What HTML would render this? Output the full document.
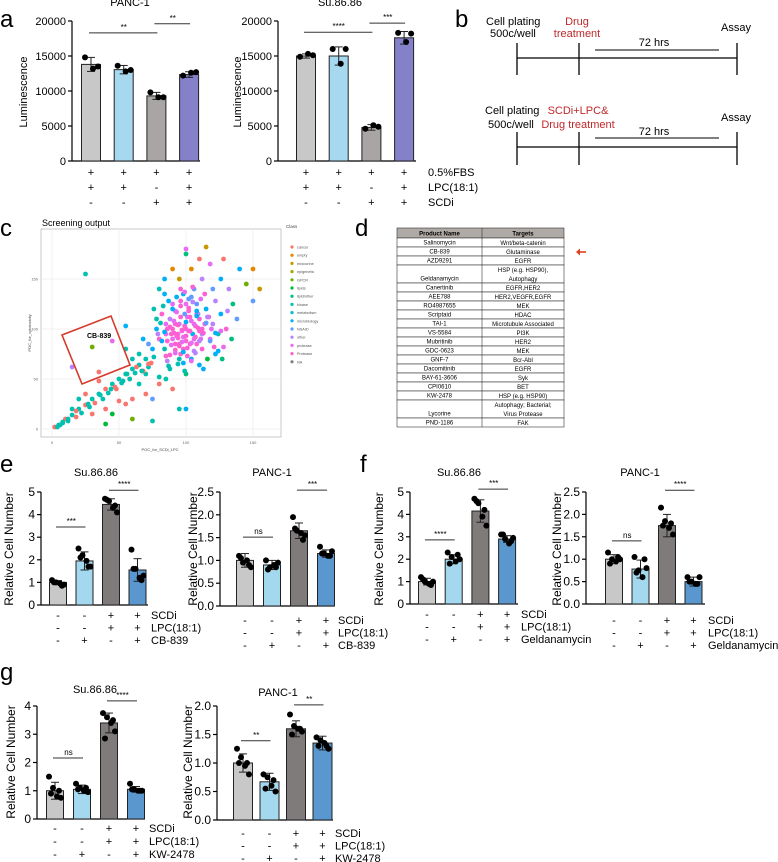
<!DOCTYPE html>
<html><head><meta charset="utf-8"><style>
html,body{margin:0;padding:0;background:#fff}
svg{display:block;font-family:"Liberation Sans",Arial,sans-serif}
</style></head><body>
<svg id="fig" width="778" height="862" viewBox="0 0 778 862" xmlns="http://www.w3.org/2000/svg"></svg>
<script>
// ---------- DATA ----------
const aPancVals = [13800,13050,9300,12350];
const aPancErrs = [1000,600,500,400];
const aPancReps = [[14800,13200,13500],[13600,12800,13000],[9800,9100,9100],[12200,12600,12700]];
const aSuVals = [15000,15000,4800,17600];
const aSuErrs = [300,1300,400,900];
const aSuReps = [[14900,15300,15100],[16000,13900,16000],[4600,5100,4900],[18300,17000,18200]];
const aTicks = [0,5000,10000,15000,20000];
const aTickLabels = ["0","5000","10000","15000","20000"];

const eSuVals = [1.0,1.95,4.45,1.55];
const eSuErrs = [0.08,0.4,0.25,0.5];
const eSuReps = [[1.1,1.0,0.95,0.9,1.0,0.85],[2.5,2.2,1.95,1.7,2.1,1.7],[4.7,4.6,4.3,4.1,4.65,4.4],[2.45,1.6,1.2,1.3,1.6,1.1]];
const ePaVals = [1.0,0.9,1.65,1.15];
const ePaErrs = [0.15,0.1,0.17,0.08];
const ePaReps = [[1.1,0.95,1.0,0.85,1.05,0.9],[1.0,0.85,0.9,0.95,0.8,0.85],[1.95,1.65,1.6,1.55,1.7,1.45],[1.3,1.15,1.1,1.2,1.15,1.1]];
const fSuVals = [1.0,2.0,4.15,2.9];
const fSuErrs = [0.15,0.2,0.5,0.15];
const fSuReps = [[1.2,1.0,0.9,1.0,1.1,0.85],[2.3,2.1,1.9,2.0,1.8,2.2],[4.7,4.5,3.9,3.5,4.6,4.2],[3.1,2.9,2.7,2.95,3.1,2.8]];
const fPaVals = [1.0,0.78,1.75,0.5];
const fPaErrs = [0.1,0.2,0.25,0.1];
const fPaReps = [[1.15,1.0,0.95,1.0,0.9,1.05],[1.05,0.75,0.6,0.8,0.7,1.0],[2.15,1.85,1.7,1.55,1.75,1.8],[0.6,0.5,0.45,0.6,0.5,0.45]];
const gSuVals = [1.0,1.05,3.4,1.05];
const gSuErrs = [0.3,0.15,0.35,0.1];
const gSuReps = [[1.5,1.1,0.8,0.75,0.9,1.0],[1.25,1.1,1.0,0.95,1.05,1.1],[3.75,3.6,3.4,3.1,2.85,3.5],[1.25,1.05,1.0,1.0,1.05,1.0]];
const gPaVals = [1.0,0.67,1.6,1.35];
const gPaErrs = [0.16,0.15,0.14,0.12];
const gPaReps = [[1.25,1.1,0.95,0.8,1.0,1.0],[0.8,0.75,0.6,0.5,0.55,0.7],[1.85,1.65,1.6,1.55,1.5,1.6],[1.45,1.4,1.35,1.25,1.3,1.3]];
const ticks5 = [0,1,2,3,4,5];
const ticks5Labels = ["0","1","2","3","4","5"];
const ticks25 = [0,0.5,1,1.5,2,2.5];
const ticks25Labels = ["0.0","0.5","1.0","1.5","2.0","2.5"];
const ticks4 = [0,1,2,3,4];
const ticks4Labels = ["0","1","2","3","4"];
const ticks2 = [0,0.5,1,1.5,2];
const ticks2Labels = ["0.0","0.5","1.0","1.5","2.0"];

const scX = [2,5,8,10,12,15,18,20,22,25,28,30,32,35,38,40,42,45,48,50,52,55,58,60,62,65,30,40,50,60,70,45,55,75,35,25,20,15,65,70,72,68,80,85,90,60,75,95,100,40,
30,45,55,15,35,25,55,
80,85,90,95,100,105,110,92,98,88,102,96,84,76,108,115,120,118,112,104,94,86,78,82,90,98,106,114,122,126,124,116,100,88,72,70,76,84,95,104,112,118,126,132,135,130,128,122,108,100,94,90,96,104,110,86,92,100,108,114,82,98,106,88,120,96,102,92,97,103,140,150,155,145,138,134,150,110,100,90,84,80,100,115,128,95,99,93,107,101,89,111,117,85,79,75,65,68,72,60,
91,94,97,100,103,106,109,112,88,91,94,97,100,103,106,109,112,115,86,89,92,95,98,101,104,107,110,113,90,93,96,99,102,105,108,111,95,98,101,104,107,93,96,99,102,105,108,83,87,116,119,122,81,84,118,121,124,127,78,131,126,113,99,87,74,80,67,63,58,56,53,47,44,36,27,18,12,8,6,4,85,92,110,104];
const scY = [2,4,6,10,8,14,12,20,16,24,22,30,26,35,30,40,36,45,40,50,46,55,50,60,56,64,15,20,28,30,35,15,25,30,48,35,30,20,45,55,62,58,45,50,40,10,8,20,20,5,
82,88,80,62,57,155,103,
90,95,100,105,100,95,110,85,92,110,118,75,80,72,125,120,105,90,80,70,65,68,100,115,125,135,140,135,128,115,95,70,55,60,85,70,120,135,150,160,150,165,150,140,125,100,82,75,85,88,95,90,112,108,98,100,118,125,115,105,88,80,78,74,140,140,98,105,98,85,160,128,140,145,110,90,160,170,175,160,150,140,180,182,170,85,103,93,103,112,95,90,112,105,95,80,75,90,65,70,
96,91,87,93,98,90,101,95,102,108,104,99,107,112,105,115,100,106,88,84,79,83,77,81,86,92,88,96,120,117,123,115,121,127,113,130,70,66,73,68,76,132,128,137,130,142,118,123,128,112,100,96,106,97,88,82,78,70,110,118,98,60,58,63,66,52,58,62,50,55,48,42,40,34,25,18,10,7,4,2,73,76,64,132];
const scC = [0,7,7,0,7,7,0,7,7,0,7,7,0,7,7,0,7,7,0,7,7,7,0,7,7,7,0,0,0,0,0,5,0,10,0,0,7,7,7,7,7,0,0,7,0,4,7,7,9,5,
4,12,7,11,0,7,9,
13,12,13,11,13,9,13,13,12,11,13,13,7,7,10,9,11,12,13,9,7,11,9,13,12,9,10,13,11,9,7,5,6,7,10,7,7,9,2,1,11,12,9,11,6,13,12,9,13,13,13,12,13,12,13,13,11,12,13,12,9,13,11,13,10,13,13,13,12,13,9,10,2,4,10,6,1,0,6,1,9,7,12,2,0,13,13,13,13,12,13,12,13,12,11,9,7,9,0,7,
13,13,12,13,13,12,13,11,13,12,13,13,9,13,12,11,13,10,13,12,13,13,9,13,12,13,11,13,9,12,13,10,13,11,9,12,7,9,13,12,11,9,13,12,10,13,9,7,9,11,12,9,7,9,10,13,9,6,7,11,12,9,7,7,0,7,7,0,7,7,7,0,7,7,7,0,7,7,7,7,13,12,9,10];
const classLabels = ["cancer","empty","endocrine","epigenetic","GPCR","lipids","lipid/other","kinase","metabolism","microbiology","NSAID","other","protease","Protease","NA"];
const classColors = ["#F8766D","#E58700","#C99800","#A3A500","#6BB100","#00BA38","#00BF7D","#00C0AF","#00BCD8","#00B0F6","#619CFF","#B983FF","#E76BF3","#FD61D1","#7f7f7f"];
const scTicks = [0,50,100,150];

const tableNames = ["Salinomycin","CB-839","AZD9291","Geldanamycin","Canertinib","AEE788","RO4987655","Scriptaid","TAI-1","VS-5584","Mubritinib","GDC-0623","GNF-7","Dacomitinib","BAY-61-3606","CPI0610","KW-2478","Lycorine","PND-1186"];
const tableTargets = [["Wnt/beta-catenin"],["Glutaminase"],["EGFR"],["HSP (e.g. HSP90),","Autophagy"],["EGFR,HER2"],["HER2,VEGFR,EGFR"],["MEK"],["HDAC"],["Microtubule Associated"],["PI3K"],["HER2"],["MEK"],["Bcr-Abl"],["EGFR"],["Syk"],["BET"],["HSP (e.g. HSP90)"],["Autophagy; Bacterial;","Virus Protease"],["FAK"]];

// ---------- HELPERS ----------
const NS="http://www.w3.org/2000/svg";
const svg=document.getElementById('fig');
function el(tag,attrs,parent){const e=document.createElementNS(NS,tag);for(const k in attrs)e.setAttribute(k,attrs[k]);(parent||svg).appendChild(e);return e;}
function txt(s,x,y,size,anchor,parent,extra){const t=el('text',Object.assign({x:x,y:y,'font-size':size,'text-anchor':anchor||'start',fill:'#000'},extra||{}),parent);t.textContent=s;return t;}

function barChart(o){
  const g=el('g',{});
  
  
  const ys=v=>o.y0-(v/o.max)*(o.y0-o.yTop);
  const cx=i=>o.c0+i*o.step;
  el('line',{x1:o.ax,y1:o.y0,x2:o.ax,y2:o.yTop,stroke:'#000','stroke-width':1.2},g);
  el('line',{x1:o.ax,y1:o.y0,x2:o.axEnd,y2:o.y0,stroke:'#000','stroke-width':1.2},g);
  o.ticks.forEach((t,i)=>{
    const y=ys(t);
    el('line',{x1:o.ax-4,y1:y,x2:o.ax,y2:y,stroke:'#000','stroke-width':1.2},g);
    const tl=txt(o.tickLabels[i],o.ax-6,y+4,o.tickSize||11,'end',g);
    
    
  });
  const yt=txt(o.yTitle,0,0,o.yTitleSize||11,'middle',g,{transform:`translate(${o.ytx},${o.yty}) rotate(-90)`});
  
  
  if(o.title){const tt=txt(o.title,o.titleX,o.titleY,11,'middle',g);
    
    }
  o.vals.forEach((v,i)=>{
    const x=cx(i);
    const r=el('rect',{x:x-o.bw/2,y:ys(v),width:o.bw,height:o.y0-ys(v),fill:o.colors[i],stroke:'#222','stroke-width':1},g);
    
    
    const e=o.errs[i];
    el('line',{x1:x,y1:ys(v-e),x2:x,y2:ys(v+e),stroke:'#222','stroke-width':1},g);
    el('line',{x1:x-4,y1:ys(v+e),x2:x+4,y2:ys(v+e),stroke:'#222','stroke-width':1},g);
    el('line',{x1:x-4,y1:ys(v-e),x2:x+4,y2:ys(v-e),stroke:'#222','stroke-width':1},g);
    const reps=o.reps[i];
    const offs=reps.length===3?[-6,2,7]:[-6,-2,2,6,-4,4];
    reps.forEach((rv,j)=>{
      const d=el('circle',{cx:x+offs[j],cy:ys(rv),r:3,fill:'#000'},g);
      
      
    });
  });
  o.sigs.forEach(s=>{
    const y=ys(s[2]);
    el('line',{x1:cx(s[0])-2,y1:y,x2:cx(s[1])+1,y2:y,stroke:'#333','stroke-width':1},g);
    const st=txt(s[3],(cx(s[0])+cx(s[1]))/2,y-3,8,'middle',g);
    
    
  });
  if(o.signs){
    o.signs.forEach((row,ri)=>{
      const y=o.rowY0+ri*o.rowStep;
      row.forEach((s,i)=>txt(s,cx(i),y,11,'middle',g));
      if(o.rowLabels){const rl=txt(o.rowLabels[ri],o.rowLabelX,y,11,'start',g);
        
        }
    });
  }
}
function letter(s,x,y){const t=txt(s,x,y,24,'start');
  
  }

// ---------- PANEL A ----------
letter('a',0,27);
const colA=["#c8c8c8","#a6d8ef","#a9a5a5","#8481c9"];
const signsA=[["+","+","+","+"],["+","+","-","+"],["-","-","+","+"]];
barChart({name:'panc1-luminescence-chart',ax:72,axEnd:200,y0:161,yTop:21,max:20000,ticks:aTicks,tickLabels:aTickLabels,c0:91,step:32.7,bw:19,
  vals:aPancVals,errs:aPancErrs,reps:aPancReps,colors:colA,sigs:[[0,2,18300,'**'],[2,3,19600,'**']],
  yTitle:'Luminescence',ytx:27,yty:92,title:'PANC-1',titleX:130,titleY:6,signs:signsA,rowY0:176,rowStep:15});
barChart({name:'su8686-luminescence-chart',ax:278,axEnd:416,y0:161,yTop:21,max:20000,ticks:aTicks,tickLabels:aTickLabels,c0:306,step:32.7,bw:19,
  vals:aSuVals,errs:aSuErrs,reps:aSuReps,colors:colA,sigs:[[0,2,18400,'****'],[2,3,19700,'***']],
  yTitle:'Luminescence',ytx:241,yty:92,title:'Su.86.86',titleX:340,titleY:6,signs:signsA,rowY0:176,rowStep:15,
  rowLabels:['0.5%FBS','LPC(18:1)','SCDi'],rowLabelX:428});

// ---------- PANEL B ----------
letter('b',455,27);
(function(){
  const g=el('g',{});
  
  
  const L=(a,b,c,d,w)=>el('line',{x1:a,y1:b,x2:c,y2:d,stroke:'#000','stroke-width':w||1.3},g);
  const red={fill:'#c0282a'};
  // top
  L(517,58,737,58);L(517,43,517,75);L(579,43,579,75);L(737,43,737,75);
  L(595,50,719,50,1);
  txt('Cell plating',486,25,11,'start',g);txt('500c/well',490,37,11,'start',g);
  txt('Drug',577,25,11,'middle',g,red);txt('treatment',577,37,11,'middle',g,red);
  txt('72 hrs',654,46,11,'middle',g);txt('Assay',721,31,11,'start',g);
  // bottom
  L(517,147,737,147);L(517,132,517,165);L(579,132,579,165);L(737,132,737,165);
  L(595,138,719,138,1);
  txt('Cell plating',485,114,11,'start',g);txt('500c/well',488,128,11,'start',g);
  txt('SCDi+LPC&',578,114,11,'middle',g,red);txt('Drug treatment',578,128,11,'middle',g,red);
  txt('72 hrs',654,135,11,'middle',g);txt('Assay',721,121,11,'start',g);
})();

// ---------- PANEL C ----------
letter('c',0,236);
(function(){
  const g=el('g',{});
  
  
  const sx=v=>52+v*1.34, sy=v=>429-v*1.0;
  el('rect',{x:41,y:229,width:240,height:208,fill:'#fff',stroke:'#bbb','stroke-width':0.8},g);
  scTicks.forEach(t=>{
    el('line',{x1:sx(t),y1:229,x2:sx(t),y2:437,stroke:'#eee','stroke-width':0.8},g);
    el('line',{x1:41,y1:sy(t),x2:281,y2:sy(t),stroke:'#eee','stroke-width':0.8},g);
    txt(String(t),sx(t),444,4,'middle',g,{fill:'#666'});
    txt(String(t),38,sy(t)+1.5,4,'end',g,{fill:'#666'});
  });
  txt('Screening output',42,226,9,'start',g);
  txt('POC_for_SCDi_LPC',160,451,4,'middle',g,{fill:'#444'});
  txt('POC_for_cytotoxicity',0,0,4,'middle',g,{fill:'#444',transform:'translate(31,333) rotate(-90)'});
  scX.forEach((x,i)=>{
    const c=el('circle',{cx:sx(x),cy:sy(scY[i]),r:2.4,fill:classColors[scC[i]]},g);
    
    
  });
  const box=el('polygon',{points:'62,335 111,316 130,365 82,384',fill:'none',stroke:'#d63a2a','stroke-width':1.6},g);
  
  
  txt('CB-839',87,338,7,'start',g,{'font-weight':'bold'});
  txt('Class',286,228,4.5,'start',g,{fill:'#444'});
  classLabels.forEach((lab,i)=>{
    const y=247+i*8.2;
    const d=el('circle',{cx:292,cy:y,r:1.6,fill:classColors[i]},g);
    
    
    txt(lab,297,y+1.5,3.8,'start',g,{fill:'#555'});
  });
})();

// ---------- PANEL D ----------
letter('d',355,236);
(function(){
  const g=el('g',{});
  
  
  const x0=397,x1=482,x2=564;
  el('rect',{x:x0,y:228,width:x2-x0,height:10,fill:'#b0aaa6',stroke:'#333','stroke-width':0.6},g);
  txt('Product Name',(x0+x1)/2,235.5,6,'middle',g,{'font-weight':'bold'});
  txt('Targets',(x1+x2)/2,235.5,6,'middle',g,{'font-weight':'bold'});
  let y=238;
  tableNames.forEach((n,i)=>{
    const t=tableTargets[i];const h=t.length*9;
    el('rect',{x:x0,y:y,width:x2-x0,height:h,fill:'#fff',stroke:'#333','stroke-width':0.6},g);
    el('line',{x1:x1,y1:y,x2:x1,y2:y+h,stroke:'#333','stroke-width':0.6},g);
    txt(n,(x0+x1)/2,y+h-2.5,6,'middle',g);
    t.forEach((s,k)=>txt(s,(x1+x2)/2,y+7+k*9,6,'middle',g));
    y+=h;
  });
  el('line',{x1:x1,y1:228,x2:x1,y2:238,stroke:'#333','stroke-width':0.6},g);
  const ar=el('g',{},g);
  
  
  el('line',{x1:578,y1:252,x2:586,y2:252,stroke:'#e0401f','stroke-width':1.6},ar);
  el('polygon',{points:'576,252 580,248.5 580,255.5',fill:'#e0401f'},ar);
})();

// ---------- PANELS E, F, G ----------
const colE=["#c8c8c8","#a3d8ef","#7f7b7b","#5b97cf"];
const signsE=[["-","-","+","+"],["-","-","+","+"],["-","+","-","+"]];
letter('e',0,472);
barChart({name:'e-su8686-chart',ax:41,axEnd:148,y0:605,yTop:492,max:5,ticks:ticks5,tickLabels:ticks5Labels,tickSize:12,c0:58,step:26.5,bw:17,
  vals:eSuVals,errs:eSuErrs,reps:eSuReps,colors:colE,sigs:[[0,1,3.45,'***'],[2,3,5.08,'****']],
  yTitle:'Relative Cell Number',yTitleSize:12,ytx:13,yty:549,title:'Su.86.86',titleX:96,titleY:476,signs:signsE,rowY0:619,rowStep:12.5,
  rowLabels:['SCDi','LPC(18:1)','CB-839'],rowLabelX:151});
barChart({name:'e-panc1-chart',ax:220,axEnd:334,y0:606,yTop:492,max:2.5,ticks:ticks25,tickLabels:ticks25Labels,tickSize:12,c0:245,step:27,bw:17,
  vals:ePaVals,errs:ePaErrs,reps:ePaReps,colors:colE,sigs:[[0,1,1.51,'ns'],[2,3,2.54,'***']],
  yTitle:'Relative Cell Number',yTitleSize:12,ytx:197,yty:549,title:'PANC-1',titleX:272,titleY:476,signs:signsE,rowY0:624,rowStep:12.5,
  rowLabels:['SCDi','LPC(18:1)','CB-839'],rowLabelX:338});
letter('f',360,472);
barChart({name:'f-su8686-chart',ax:410,axEnd:518,y0:604,yTop:492,max:5,ticks:ticks5,tickLabels:ticks5Labels,tickSize:12,c0:427,step:26.7,bw:17,
  vals:fSuVals,errs:fSuErrs,reps:fSuReps,colors:colE,sigs:[[0,1,2.86,'****'],[2,3,5.13,'***']],
  yTitle:'Relative Cell Number',yTitleSize:12,ytx:383,yty:549,title:'Su.86.86',titleX:459,titleY:476,signs:signsE,rowY0:618,rowStep:12.5,
  rowLabels:['SCDi','LPC(18:1)','Geldanamycin'],rowLabelX:521});
barChart({name:'f-panc1-chart',ax:586,axEnd:705,y0:604,yTop:492,max:2.5,ticks:ticks25,tickLabels:ticks25Labels,tickSize:12,c0:614,step:26.5,bw:17,
  vals:fPaVals,errs:fPaErrs,reps:fPaReps,colors:colE,sigs:[[0,1,1.41,'ns'],[2,3,2.54,'****']],
  yTitle:'Relative Cell Number',yTitleSize:12,ytx:561,yty:549,title:'PANC-1',titleX:640,titleY:476,signs:signsE,rowY0:624,rowStep:12.5,
  rowLabels:['SCDi','LPC(18:1)','Geldanamycin'],rowLabelX:708});
letter('g',0,680);
barChart({name:'g-su8686-chart',ax:37,axEnd:145,y0:819,yTop:706,max:4,ticks:ticks4,tickLabels:ticks4Labels,tickSize:12,c0:55,step:27,bw:17,
  vals:gSuVals,errs:gSuErrs,reps:gSuReps,colors:colE,sigs:[[0,1,2.16,'ns'],[2,3,4.18,'****']],
  yTitle:'Relative Cell Number',yTitleSize:12,ytx:15,yty:762,title:'Su.86.86',titleX:95,titleY:693,signs:signsE,rowY0:832,rowStep:13,
  rowLabels:['SCDi','LPC(18:1)','KW-2478'],rowLabelX:149});
barChart({name:'g-panc1-chart',ax:217,axEnd:333,y0:820,yTop:706,max:2,ticks:ticks2,tickLabels:ticks2Labels,tickSize:12,c0:243,step:26.5,bw:19,
  vals:gPaVals,errs:gPaErrs,reps:gPaReps,colors:colE,sigs:[[0,1,1.39,'**'],[2,3,2.02,'**']],
  yTitle:'Relative Cell Number',yTitleSize:12,ytx:192,yty:762,title:'PANC-1',titleX:278,titleY:696,signs:signsE,rowY0:837,rowStep:12.5,
  rowLabels:['SCDi','LPC(18:1)','KW-2478'],rowLabelX:335});
</script>
</body></html>
